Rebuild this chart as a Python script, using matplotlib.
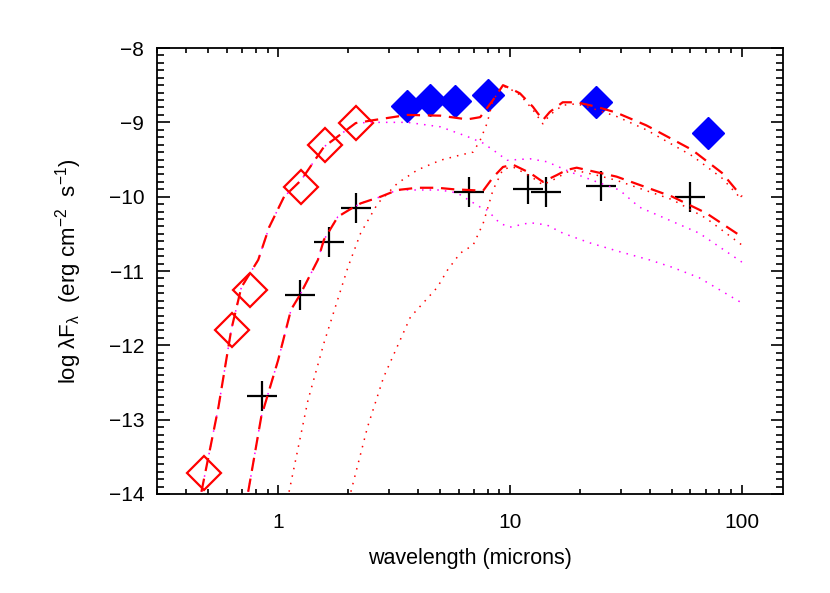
import matplotlib
matplotlib.use('Agg')
import matplotlib.pyplot as plt
from matplotlib.ticker import LogLocator, FixedLocator, MultipleLocator, NullFormatter

plt.rcParams['font.family'] = ['Liberation Sans', 'DejaVu Sans']
plt.rcParams['mathtext.fontset'] = 'custom'
plt.rcParams['mathtext.rm'] = 'Liberation Sans'
plt.rcParams['mathtext.it'] = 'Liberation Sans'

# photometry, source A (open red diamonds = optical/near-IR, blue = Spitzer)
optA_wave = [0.48, 0.63, 0.76, 1.25, 1.59, 2.16]
optA_flux = [-13.72, -11.79, -11.26, -9.87, -9.30, -9.01]
irA_wave = [3.6, 4.5, 5.8, 8.0, 23.6, 71.5]
irA_flux = [-8.78, -8.70, -8.71, -8.63, -8.73, -9.14]

# photometry, source B (black crosses)
srcB_wave = [0.85, 1.24, 1.65, 2.16, 6.67, 11.9, 14.3, 24.8, 59.8]
srcB_flux = [-12.68, -11.32, -10.61, -10.15, -9.94, -9.90, -9.94, -9.86, -10.00]

# model, source A: total (dashed), star (magenta dotted), disk (red dotted)
totA_wave = [0.467, 0.553, 0.628, 0.694, 0.821, 0.915, 1.061, 1.255, 1.576, 2.16,
             2.58, 3.61, 5.01, 6.54, 7.44, 8.45, 9.33, 10.0, 11.04, 12.55, 13.86,
             14.85, 16.88, 19.4, 23.6, 28.8, 38.7, 61.0, 82.1, 100.0]
totA_flux = [-13.97, -12.83, -11.79, -11.22, -10.85, -10.41, -10.0, -9.78, -9.33, -9.01,
             -8.97, -8.90, -8.91, -8.96, -8.93, -8.70, -8.50, -8.54, -8.61, -8.79, -8.97,
             -8.86, -8.73, -8.73, -8.79, -8.87, -9.04, -9.37, -9.68, -10.0]
starA_wave = [0.467, 0.553, 0.628, 0.694, 0.821, 0.915, 1.061, 1.255, 1.576, 2.16,
              2.51, 3.61, 5.01, 6.54, 7.66, 8.80, 9.71, 12.19, 14.41, 18.64, 23.63,
              29.66, 36.1, 65.4, 100.0]
starA_flux = [-13.97, -12.83, -11.79, -11.22, -10.85, -10.41, -10.0, -9.78, -9.33, -9.01,
              -9.0, -9.0, -9.06, -9.19, -9.28, -9.41, -9.51, -9.49, -9.53, -9.68, -9.80,
              -9.91, -10.14, -10.49, -10.88]
diskA_wave = [1.115, 1.345, 1.576, 2.0, 2.27, 2.69, 3.27, 3.99, 5.01, 6.10, 6.94, 7.44,
              7.97, 8.45, 9.33, 10.0, 11.04, 12.55, 13.86, 14.85, 16.88, 19.4, 23.6,
              28.8, 38.7, 61.0, 82.1, 100.0]
diskA_flux = [-13.97, -12.74, -11.97, -10.95, -10.49, -10.09, -9.82, -9.64, -9.51, -9.44,
              -9.40, -9.24, -9.01, -8.70, -8.51, -8.55, -8.63, -8.83, -9.02, -8.90, -8.77,
              -8.75, -8.83, -8.92, -9.10, -9.45, -9.75, -10.04]

# model, source B
totB_wave = [0.743, 0.846, 1.0, 1.137, 1.243, 1.485, 1.576, 1.81, 2.12, 2.27, 2.77,
             3.27, 3.99, 4.86, 5.69, 7.66, 8.45, 9.33, 10.3, 12.19, 13.86, 15.91,
             17.56, 19.4, 23.6, 28.8, 50.1, 70.1, 100.0]
totB_flux = [-13.97, -12.96, -12.20, -11.52, -11.32, -10.85, -10.58, -10.27, -10.14,
             -10.09, -10.0, -9.91, -9.88, -9.88, -9.90, -9.92, -9.74, -9.60, -9.57,
             -9.68, -9.80, -9.71, -9.64, -9.61, -9.67, -9.73, -10.0, -10.22, -10.54]
starB_wave = [0.743, 0.846, 1.0, 1.137, 1.243, 1.485, 1.576, 1.81, 2.12, 2.27, 2.77,
              3.27, 5.0, 5.92, 7.44, 7.97, 9.06, 10.0, 12.19, 14.41, 16.88, 22.0, 29.7,
              39.9, 50.1, 65.4, 100.0]
starB_flux = [-13.97, -12.96, -12.20, -11.52, -11.32, -10.85, -10.58, -10.27, -10.14,
              -10.09, -10.0, -9.91, -9.91, -9.95, -10.14, -10.18, -10.36, -10.41, -10.35,
              -10.38, -10.49, -10.62, -10.74, -10.85, -10.95, -11.09, -11.43]
diskB_wave = [2.06, 2.43, 2.85, 3.72, 4.86, 5.37, 6.10, 6.94, 7.66, 7.97, 8.45, 9.33,
              10.3, 12.19, 13.86, 15.91, 17.56, 19.4, 23.6, 28.8, 50.1, 70.1, 100.0]
diskB_flux = [-13.97, -13.10, -12.43, -11.62, -11.22, -10.99, -10.76, -10.65, -10.36,
              -10.18, -9.91, -9.63, -9.60, -9.72, -9.84, -9.75, -9.67, -9.65, -9.71,
              -9.78, -10.04, -10.29, -10.65]

fig = plt.figure(figsize=(8.3, 5.93), dpi=100)
ax = fig.add_axes([0.189, 0.167, 0.754, 0.752])

dotted = (0, (1, 4))
dashed = (0, (6, 3.5))

# symbols first, model curves are drawn over them
ax.plot(irA_wave, irA_flux, 'D', color='blue', ms=16, mec='blue', zorder=2)
ax.plot(optA_wave, optA_flux, 'D', color='red', ms=17, mfc='none', mew=1.6, zorder=2)
ax.plot(srcB_wave, srcB_flux, '+', color='black', ms=22, mew=1.6, zorder=2)

for w, f in [(starA_wave, starA_flux), (starB_wave, starB_flux)]:
    ax.plot(w, f, color='magenta', lw=1.1, linestyle=dotted, zorder=3)
for w, f in [(diskA_wave, diskA_flux), (diskB_wave, diskB_flux)]:
    ax.plot(w, f, color='red', lw=1.1, linestyle=dotted, zorder=3)
for w, f in [(totA_wave, totA_flux), (totB_wave, totB_flux)]:
    ax.plot(w, f, color='red', lw=1.6, linestyle=dashed, zorder=4)

ax.set_xscale('log')
ax.set_xlim(0.3, 150)
ax.set_ylim(-14, -8)

ax.xaxis.set_major_locator(FixedLocator([1, 10, 100]))
ax.xaxis.set_major_formatter(plt.FuncFormatter(lambda v, p: '%g' % v))
ax.xaxis.set_minor_locator(LogLocator(base=10, subs=range(2, 10), numticks=20))
ax.xaxis.set_minor_formatter(NullFormatter())
ax.yaxis.set_major_locator(MultipleLocator(1))
ax.yaxis.set_minor_locator(MultipleLocator(0.1))
ax.yaxis.set_major_formatter(plt.FuncFormatter(lambda v, p: '\u2212%d' % abs(v) if v < 0 else '%d' % v))

ax.tick_params(which='both', direction='in', top=True, right=True, width=1.2, labelsize=15)
ax.tick_params(axis='x', which='major', length=6.5, pad=14)
ax.tick_params(axis='x', which='minor', length=3.3)
ax.tick_params(axis='y', which='major', length=9, pad=9)
ax.tick_params(axis='y', which='minor', length=4.7)
for s in ax.spines.values():
    s.set_linewidth(1.3)

ax.set_xlabel('wavelength (microns)', fontsize=15.5, labelpad=11)
ax.set_ylabel(r'log λF$_{\lambda}$  (erg cm$^{-2}$  s$^{-1}$)', fontsize=16, labelpad=18)

fig.savefig('out.png', dpi=100)
